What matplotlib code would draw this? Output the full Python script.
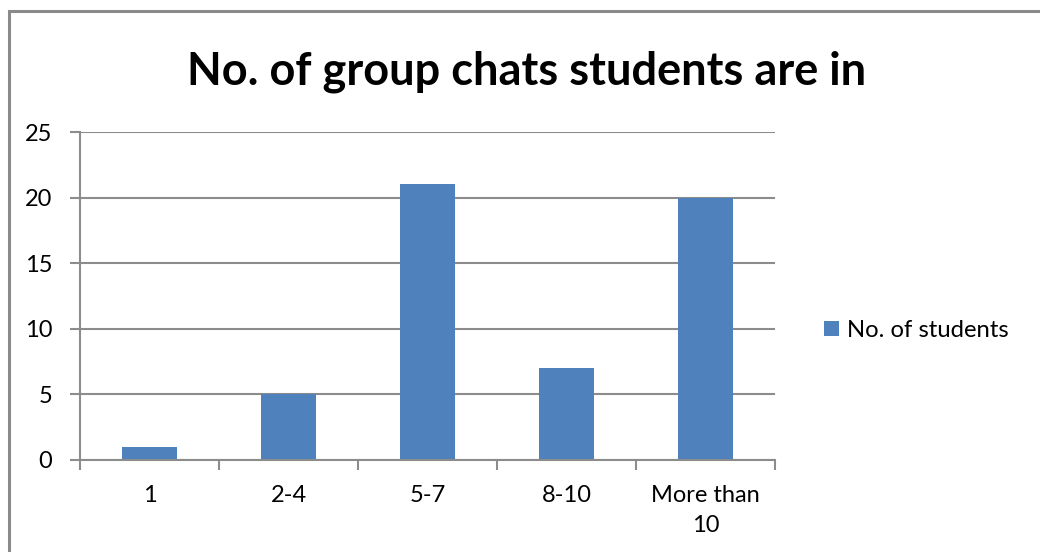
import matplotlib.pyplot as plt
from matplotlib.patches import Rectangle
import numpy as np

categories = ['1', '2-4', '5-7', '8-10', 'More than\n10']
students = [1, 5, 21, 7, 20]
yticks = [0, 5, 10, 15, 20, 25]

plt.rcParams['font.family'] = ['Lato', 'DejaVu Sans']

bar_color = '#4f81bd'
grid_color = '#8c8c8c'

fig = plt.figure(figsize=(10.4, 5.52), dpi=100)

# chart frame: only top and left edges are in view
fig.add_artist(Rectangle((9 / 1040, -0.2), 1.2, 1.2 - 11 / 552,
                         transform=fig.transFigure, fill=False,
                         edgecolor='#8a8a8a', linewidth=2.2))

ax = fig.add_axes([80 / 1040, 1 - 460 / 552, 695 / 1040, 328 / 552])
x = np.arange(len(categories))
ax.bar(x, students, width=0.4, color=bar_color, label='No. of students', zorder=3)

ax.set_xlim(-0.5, len(categories) - 0.5)
ax.set_ylim(0, 25)
ax.set_yticks(yticks)
ax.set_yticklabels([str(v) for v in yticks], fontsize=17)
ax.set_xticks(x)
ax.set_xticklabels(categories, fontsize=17, linespacing=1.5)
ax.tick_params(axis='x', length=0, pad=18)
ax.set_xticks(np.arange(len(categories) + 1) - 0.5, minor=True)
ax.tick_params(axis='x', which='minor', length=7, width=1.5, color=grid_color, direction='out')
ax.tick_params(axis='y', length=7, width=1.5, color=grid_color, direction='out', pad=13)

ax.grid(axis='y', color=grid_color, linewidth=1.5, zorder=0)
for side in ['top', 'right']:
    ax.spines[side].set_visible(False)
for side in ['left', 'bottom']:
    ax.spines[side].set_color(grid_color)
    ax.spines[side].set_linewidth(1.5)
    ax.spines[side].set_zorder(4)

fig.text(527 / 1040, 1 - 72 / 552, 'No. of group chats students are in',
         ha='center', va='center', fontsize=32.5, fontweight='bold')

ax.legend(loc='center left', bbox_to_anchor=(1.04, 0.395), frameon=False,
          fontsize=17.2, handlelength=0.6, handleheight=0.6, handletextpad=0.35)

fig.savefig('out.png', dpi=100)
